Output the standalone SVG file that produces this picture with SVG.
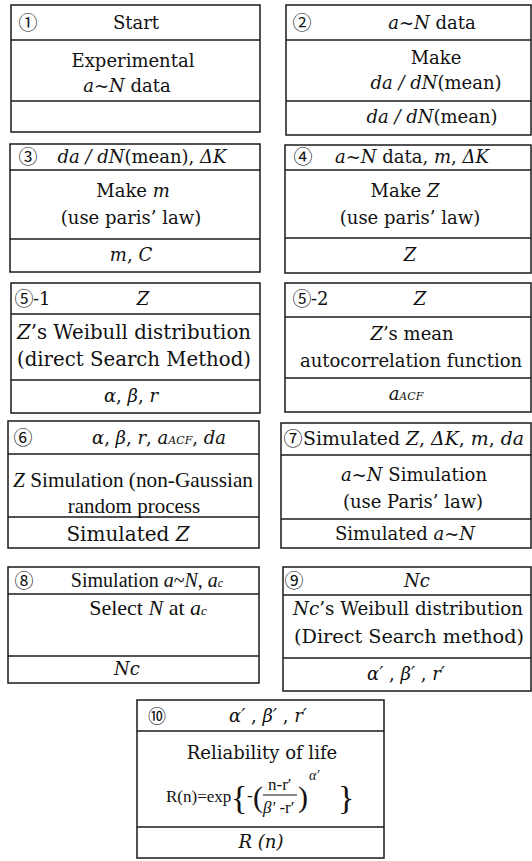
<svg xmlns="http://www.w3.org/2000/svg" width="532" height="861" viewBox="0 0 532 861">
<style>
.bx{fill:#fff;stroke:#1a1a1a;stroke-width:1.5}
.ln{stroke:#1a1a1a;stroke-width:1.5}
.t{font-family:"DejaVu Serif","Liberation Serif",serif;font-size:18px;fill:#111;text-anchor:middle}
.tr{font-family:"Liberation Serif","DejaVu Serif",serif;font-size:20px;fill:#111;text-anchor:middle}
.c{font-family:"Noto Sans CJK JP","DejaVu Sans",sans-serif;font-size:19px;fill:#111;text-anchor:middle}
.i{font-style:italic}
.sc{font-size:11px;font-style:italic}
</style>
<rect width="532" height="861" fill="#fff"/>
<g id="connectors"/>

<g id="n1">
<rect class="bx" x="11" y="5" width="249" height="127"/>
<line class="ln" x1="11" y1="40" x2="260" y2="40"/><line class="ln" x1="11" y1="101" x2="260" y2="101"/>
<text class="c" x="28" y="30">①</text>
<text class="t" x="136" y="29">Start</text>
<text class="t" x="133" y="67">Experimental</text>
<text class="t" x="127" y="92"><tspan class="i">a</tspan>~<tspan class="i">N</tspan> data</text>
</g>

<g id="n2">
<rect class="bx" x="286" y="5" width="245" height="130"/>
<line class="ln" x1="286" y1="40" x2="531" y2="40"/><line class="ln" x1="286" y1="101" x2="531" y2="101"/>
<text class="c" x="302" y="30">②</text>
<text class="t" x="432" y="29"><tspan class="i">a</tspan>~<tspan class="i">N</tspan> data</text>
<text class="t" x="436" y="64">Make</text>
<text class="t" x="436" y="89"><tspan class="i">da / dN</tspan>(mean)</text>
<text class="t" x="432" y="123"><tspan class="i">da / dN</tspan>(mean)</text>
</g>

<g id="n3">
<rect class="bx" x="10" y="144" width="250" height="128"/>
<line class="ln" x1="10" y1="170" x2="260" y2="170"/><line class="ln" x1="10" y1="239" x2="260" y2="239"/>
<text class="c" x="28" y="164">③</text>
<text class="t" x="142" y="163"><tspan class="i">da / dN</tspan>(mean), <tspan class="i">ΔK</tspan></text>
<text class="t" x="133" y="197">Make <tspan class="i">m</tspan></text>
<text class="t" x="131" y="224">(use paris’ law)</text>
<text class="t" x="131" y="261"><tspan class="i">m</tspan>, <tspan class="i">C</tspan></text>
</g>

<g id="n4">
<rect class="bx" x="285" y="145" width="246" height="128"/>
<line class="ln" x1="285" y1="170" x2="531" y2="170"/><line class="ln" x1="285" y1="238" x2="531" y2="238"/>
<text class="c" x="303" y="164">④</text>
<text class="t" x="412" y="163"><tspan class="i">a</tspan>~<tspan class="i">N</tspan> data, <tspan class="i">m</tspan>, <tspan class="i">ΔK</tspan></text>
<text class="t" x="405" y="197">Make <tspan class="i">Z</tspan></text>
<text class="t" x="410" y="224">(use paris’ law)</text>
<text class="t" x="410" y="261"><tspan class="i">Z</tspan></text>
</g>

<g id="n5-1">
<rect class="bx" x="11" y="283" width="249" height="130"/>
<line class="ln" x1="11" y1="314" x2="260" y2="314"/><line class="ln" x1="11" y1="380" x2="260" y2="380"/>
<text class="c" x="24" y="306">⑤</text>
<text class="t" x="33" y="305" style="text-anchor:start">-1</text>
<text class="t" x="143" y="305"><tspan class="i">Z</tspan></text>
<text class="t" x="134" y="339" style="font-size:20px" textLength="234" lengthAdjust="spacingAndGlyphs"><tspan class="i">Z</tspan>’s Weibull distribution</text>
<text class="t" x="134" y="366" style="font-size:20px" textLength="234" lengthAdjust="spacingAndGlyphs">(direct Search Method)</text>
<text class="t" x="131" y="402"><tspan class="i">α</tspan>, <tspan class="i">β</tspan>, <tspan class="i">r</tspan></text>
</g>

<g id="n5-2">
<rect class="bx" x="285" y="283" width="246" height="129"/>
<line class="ln" x1="285" y1="317" x2="531" y2="317"/><line class="ln" x1="285" y1="378" x2="531" y2="378"/>
<text class="c" x="302" y="306">⑤</text>
<text class="t" x="311" y="305" style="text-anchor:start">-2</text>
<text class="t" x="420" y="305"><tspan class="i">Z</tspan></text>
<text class="t" x="412" y="340"><tspan class="i">Z</tspan>’s mean</text>
<text class="t" x="411" y="367">autocorrelation function</text>
<text class="t" x="406" y="400"><tspan class="i">a</tspan><tspan class="sc">ACF</tspan></text>
</g>

<g id="n6">
<rect class="bx" x="8" y="421" width="251" height="127"/>
<line class="ln" x1="8" y1="454" x2="259" y2="454"/><line class="ln" x1="8" y1="517" x2="259" y2="517"/>
<text class="c" x="23" y="445">⑥</text>
<text class="t" x="159" y="444"><tspan class="i">α</tspan>, <tspan class="i">β</tspan>, <tspan class="i">r</tspan>, <tspan class="i">a</tspan><tspan class="sc">ACF</tspan>, <tspan class="i">da</tspan></text>
<text class="tr" x="133" y="487" style="font-size:21px" textLength="240" lengthAdjust="spacingAndGlyphs"><tspan class="i">Z</tspan> Simulation (non-Gaussian</text>
<text class="tr" x="134" y="513" style="font-size:21px">random process</text>
<text class="t" x="128" y="541" style="font-size:20px">Simulated <tspan class="i">Z</tspan></text>
</g>

<g id="n7">
<rect class="bx" x="281" y="423" width="250" height="125"/>
<line class="ln" x1="281" y1="455" x2="531" y2="455"/><line class="ln" x1="281" y1="519" x2="531" y2="519"/>
<text class="c" x="293" y="446">⑦</text>
<text class="t" x="303" y="445" style="text-anchor:start" textLength="221" lengthAdjust="spacingAndGlyphs">Simulated <tspan class="i">Z</tspan>, <tspan class="i">ΔK</tspan>, <tspan class="i">m</tspan>, <tspan class="i">da</tspan></text>
<text class="t" x="414" y="481"><tspan class="i">a</tspan>~<tspan class="i">N</tspan> Simulation</text>
<text class="t" x="413" y="508">(use Paris’ law)</text>
<text class="t" x="405" y="540">Simulated <tspan class="i">a</tspan>~<tspan class="i">N</tspan></text>
</g>

<g id="n8">
<rect class="bx" x="8" y="567" width="251" height="116"/>
<line class="ln" x1="8" y1="594" x2="259" y2="594"/><line class="ln" x1="8" y1="656" x2="259" y2="656"/>
<text class="c" x="24" y="588">⑧</text>
<text class="tr" x="147" y="587">Simulation <tspan class="i">a</tspan>~<tspan class="i">N</tspan>, <tspan class="i">a</tspan><tspan class="i" style="font-size:12px">c</tspan></text>
<text class="tr" x="148" y="615" style="font-size:22px">Select <tspan class="i">N</tspan> at <tspan class="i">a</tspan><tspan class="i" style="font-size:13px">c</tspan></text>
<text class="t" x="127" y="675"><tspan class="i">Nc</tspan></text>
</g>

<g id="n9">
<rect class="bx" x="283" y="567" width="248" height="124"/>
<line class="ln" x1="283" y1="595" x2="531" y2="595"/><line class="ln" x1="283" y1="658" x2="531" y2="658"/>
<text class="c" x="294" y="588">⑨</text>
<text class="t" x="417" y="587"><tspan class="i">Nc</tspan></text>
<text class="t" x="408" y="615" style="font-size:19px" textLength="230" lengthAdjust="spacingAndGlyphs"><tspan class="i">Nc</tspan>’s Weibull distribution</text>
<text class="t" x="409" y="643" style="font-size:19px" textLength="230" lengthAdjust="spacingAndGlyphs">(Direct Search method)</text>
<text class="t" x="406" y="680"><tspan class="i">α′</tspan> , <tspan class="i">β′</tspan> , <tspan class="i">r′</tspan></text>
</g>

<g id="n10">
<rect class="bx" x="137" y="700" width="247" height="158"/>
<line class="ln" x1="137" y1="731" x2="384" y2="731"/><line class="ln" x1="137" y1="827" x2="384" y2="827"/>
<text class="c" x="157" y="723" style="font-size:18px">⑩</text>
<text class="t" x="268" y="722"><tspan class="i">α′</tspan> , <tspan class="i">β′</tspan> , <tspan class="i">r′</tspan></text>
<text class="t" x="262" y="759">Reliability of life</text>
<text class="tr" style="font-size:17px;text-anchor:start"><tspan x="166" y="802">R(n)=exp</tspan><tspan x="231" y="809" style="font-size:34px">{</tspan><tspan x="247" y="801">-</tspan><tspan x="253" y="807" style="font-size:30px">(</tspan><tspan x="268" y="790">n-r′</tspan><tspan x="263" y="813"><tspan class="i">β′</tspan> -r′</tspan><tspan x="298" y="807" style="font-size:30px">)</tspan><tspan x="309" y="780" style="font-size:14px" class="i">α′</tspan><tspan x="338" y="809" style="font-size:34px">}</tspan></text>
<line x1="263" y1="795" x2="297" y2="795" stroke="#111" stroke-width="1"/>
<text class="t" x="261" y="848"><tspan class="i">R</tspan> <tspan class="i">(n)</tspan></text>
</g>
</svg>
